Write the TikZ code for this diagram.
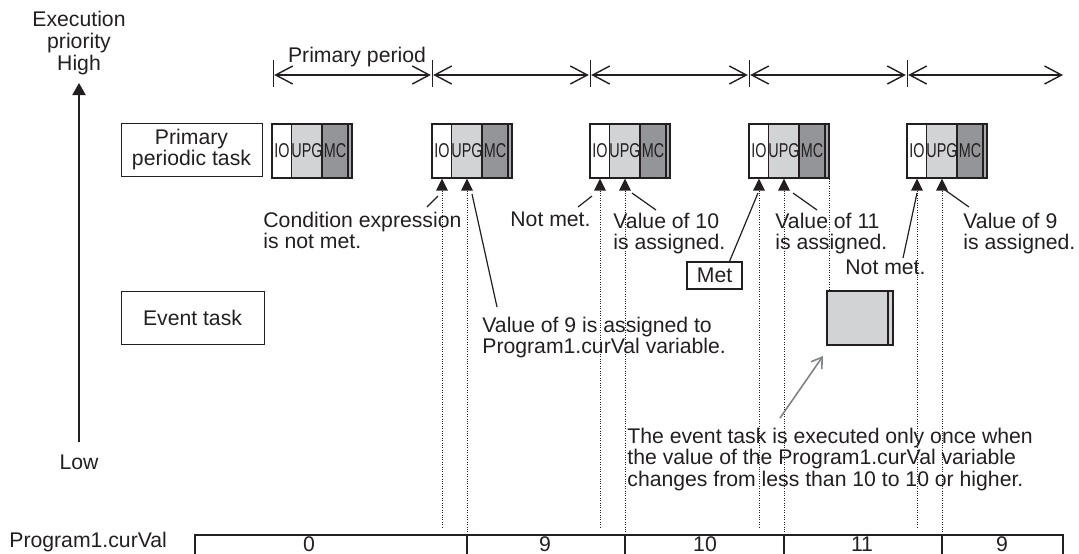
\documentclass[tikz,border=0pt]{standalone}
\usepackage{graphicx}
\usepackage{fontspec}
\setmainfont{Liberation Sans}
\usetikzlibrary{arrows.meta}
\definecolor{ink}{HTML}{231F20}
\definecolor{lg}{HTML}{D1D3D4}
\definecolor{dg}{HTML}{939598}
\definecolor{mg}{HTML}{A7A9AC}
\definecolor{garrow}{HTML}{808285}
\newcommand{\pblock}[2]{%
  \node[seg, fill=white, minimum width=10pt] (#2io) at (#1+10,151) {\scalebox{0.72}[1]{IO}};
  \node[seg, fill=lg, minimum width=15pt] (#2upg) at (#1+35,151) {\scalebox{0.72}[1]{UPG}};
  \node[seg, fill=dg, minimum width=13pt] (#2mc) at (#1+63,151) {\scalebox{0.72}[1]{MC}};
  \node[seg, fill=mg, minimum width=2pt] (#2st) at (#1+78,151) {};
}
\begin{document}
\begin{tikzpicture}[x=0.5pt,y=-0.5pt,
  every node/.style={font=\fontsize{10.6}{10.6}\selectfont, text=ink, inner sep=0pt},
  lbl/.style={align=left, anchor=north west},
  taskbox/.style={draw=ink, line width=0.5pt, align=center},
  seg/.style={draw=ink, line width=0.6pt, minimum height=27pt, font=\fontsize{10}{10}\selectfont},
  dotline/.style={draw=ink, line width=0.5pt, dash pattern=on 0.5pt off 0.7pt},
  callout/.style={draw=ink, line width=0.6pt},
  period/.style={draw=ink, line width=0.7pt, {Straight Barb[length=8.5pt,width=9pt]}-{Straight Barb[length=8.5pt,width=9pt]}},
  tickline/.style={draw=ink, line width=0.5pt},
]
\useasboundingbox (0,0) rectangle (1079,553);

% priority axis
\node[align=center, font=\fontsize{10.6}{11}\selectfont] (exec) at (79,43) {Execution\\priority\\High};
\node[anchor=base] (low) at (79,469) {Low};
\coordinate (axb) at (79,442);
\coordinate (axt) at (79,83);
\draw[ink, line width=1pt, -{Triangle[length=6pt,width=6.5pt]}] (axb) -- (axt);

% primary period
\node[anchor=base] (pp) at (357,62) {Primary period};
\foreach \i/\x in {1/273,2/432,3/590,4/749,5/907} {
  \coordinate (t\i) at (\x,75);
  \draw[tickline] (\x,60) -- (\x,87);
}
\coordinate (tend) at (1063,75);
\draw[period] ([xshift=0.6pt]t1) -- ([xshift=-0.6pt]t2);
\draw[period] ([xshift=0.6pt]t2) -- ([xshift=-0.6pt]t3);
\draw[period] ([xshift=0.6pt]t3) -- ([xshift=-0.6pt]t4);
\draw[period] ([xshift=0.6pt]t4) -- ([xshift=-0.6pt]t5);
\draw[period] ([xshift=0.6pt]t5) -- (tend);

% task boxes
\node[taskbox, minimum width=70.5pt, minimum height=26.5pt] (ppt) at (191.5,149.5) {Primary\\periodic task};
\node[taskbox, minimum width=71.5pt, minimum height=26.5pt] (evt) at (192.5,317.5) {Event task};

% periodic blocks
\pblock{272}{b1}
\pblock{432}{b2}
\pblock{590}{b3}
\pblock{749}{b4}
\pblock{907}{b5}

% event block
\node[seg, fill=lg, minimum width=33pt] (evb) at (860,318) {};
\node[seg, fill=lg, minimum width=2.5pt] (evs) at (890.5,318) {};

% bar
\coordinate (bartop) at (0,535);
\coordinate (barbot) at (0,562);
\coordinate (iobot) at (0,527);
\draw[ink, line width=0.6pt] (195,562) -- (195,535) -- (1063,535) -- (1063,562);

\foreach \bk in {b2,b3,b4,b5} {
  \fill[ink] (\bk io.south) -- ++(-6,12) -- ++(12,0) -- cycle;
  \fill[ink] (\bk upg.south) -- ++(-6,12) -- ++(12,0) -- cycle;
  \draw[dotline] ([yshift=-6pt]\bk io.south) -- (\bk io.south |- iobot);
  \draw[dotline] ([yshift=-6pt]\bk upg.south) -- (\bk upg.south |- bartop);
  \draw[ink, line width=0.6pt] (\bk upg.south |- bartop) -- (\bk upg.south |- barbot);
}
\draw[dotline] (b4st.south east) -- (b4st.south east |- evb.north);

\node[anchor=base west] (pcv) at (9,547) {Program1.curVal};
\node[anchor=base] (v0) at (309,551) {0};
\node[anchor=base] (v1) at (545,551) {9};
\node[anchor=base] (v2) at (705,551) {10};
\node[anchor=base] (v3) at (862,551) {11};
\node[anchor=base] (v4) at (1002,551) {9};

% annotations
\node[lbl] (cond) at (263,212) {Condition expression\\is not met.};
\node[lbl] (v9a) at (482,317) {Value of 9 is assigned to\\Program1.curVal variable.};
\node[lbl] (nm1) at (510,212) {Not met.};
\node[lbl] (v10) at (613,213) {Value of 10\\is assigned.};
\node[lbl] (v11) at (775,213) {Value of 11\\is assigned.};
\node[lbl] (nm2) at (845,260) {Not met.};
\node[lbl] (v9b) at (963,213) {Value of 9\\is assigned.};
\node[draw=ink, line width=0.6pt, minimum width=27.5pt, minimum height=13.5pt] (met) at (714.5,275.5) {Met};
\node[lbl] (note) at (627,428) {The event task is executed only once when\\the value of the Program1.curVal variable\\changes from less than 10 to 10 or higher.};

\draw[callout] (427,207) -- (438,196);
\draw[callout] (472,194) -- (497,307);
\draw[callout] (578,207) -- (592,196);
\draw[callout] (632,193) -- (656,210);
\draw[callout] ([xshift=7.5pt]met.north) -- (758,193);
\draw[callout] (793,193) -- (817,210);
\draw[callout] (903,258) -- (917,193);
\draw[callout] (945,190) -- (969,207);

\coordinate (gs) at (780,418);
\coordinate (ge) at (823,356);
\draw[garrow, line width=0.8pt, -{Straight Barb[length=5pt,width=6.5pt]}] (gs) -- (ge);
\end{tikzpicture}
\end{document}
